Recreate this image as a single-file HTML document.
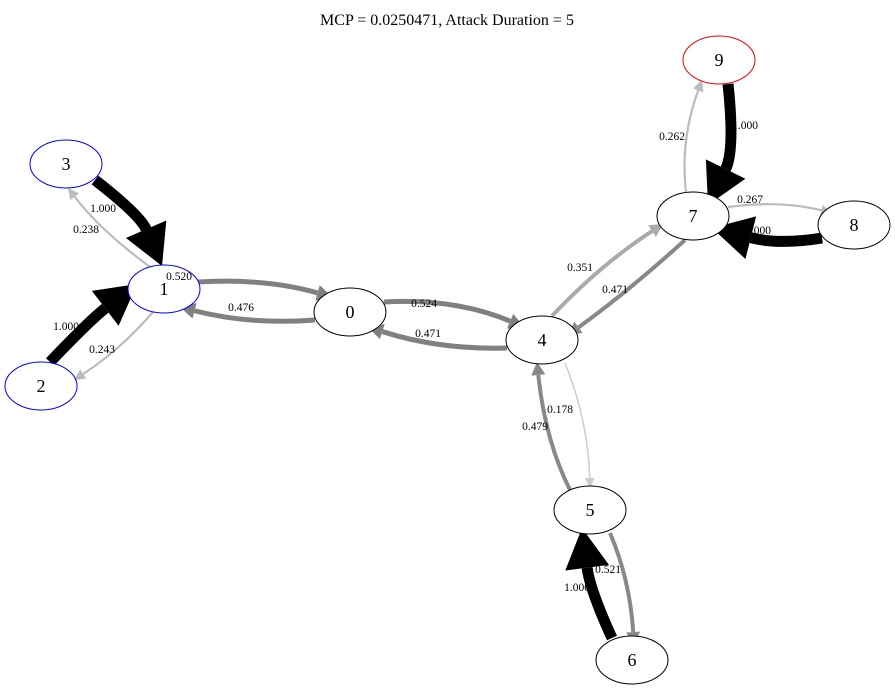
<!DOCTYPE html>
<html><head><meta charset="utf-8"><style>
html,body{margin:0;padding:0;background:#fff;width:895px;height:690px;overflow:hidden}
svg{display:block}
text{font-family:"Liberation Serif",serif}
</style></head><body>
<svg id="s" width="895" height="690" viewBox="0 0 895 690" xmlns="http://www.w3.org/2000/svg">
<text x="447" y="25" font-size="16" text-anchor="middle">MCP = 0.0250471, Attack Duration = 5</text>
<text x="103" y="212" font-size="11.5" text-anchor="middle">1.000</text>
<g id="edges"></g>
<g fill="#fff" stroke-width="1">
<ellipse cx="719" cy="60" rx="36" ry="24" stroke="#e00"/>
<ellipse cx="66" cy="164" rx="36" ry="24" stroke="#00f"/>
<ellipse cx="693" cy="216" rx="36" ry="24" stroke="#000"/>
<ellipse cx="854" cy="225" rx="36" ry="24" stroke="#000"/>
<ellipse cx="164" cy="289" rx="36" ry="24" stroke="#00f"/>
<ellipse cx="350" cy="312" rx="36" ry="24" stroke="#000"/>
<ellipse cx="542" cy="340" rx="36" ry="24" stroke="#000"/>
<ellipse cx="41" cy="386" rx="36" ry="24" stroke="#00f"/>
<ellipse cx="590" cy="510" rx="36" ry="24" stroke="#000"/>
<ellipse cx="632" cy="660" rx="36" ry="24" stroke="#000"/>
</g>
<g font-size="18" text-anchor="middle">
<text x="719" y="66">9</text><text x="66" y="170">3</text><text x="693" y="222">7</text>
<text x="854" y="231">8</text><text x="164" y="295">1</text><text x="350" y="318">0</text>
<text x="542" y="346">4</text><text x="41" y="392">2</text><text x="590" y="516">5</text>
<text x="632" y="666">6</text>
</g>
<g font-size="11.5" text-anchor="middle">
<text x="86" y="233">0.238</text>
<text x="66" y="330">1.000</text>
<text x="102" y="353">0.243</text>
<text x="179" y="280">0.520</text>
<text x="241" y="311">0.476</text>
<text x="424" y="307">0.524</text>
<text x="428" y="337">0.471</text>
<text x="580" y="271">0.351</text>
<text x="615" y="293">0.471</text>
<text x="672" y="140">0.262</text>
<text x="745" y="129">1.000</text>
<text x="750" y="203">0.267</text>
<text x="758" y="234">1.000</text>
<text x="560" y="413">0.178</text>
<text x="535" y="430">0.479</text>
<text x="608" y="573">0.521</text>
<text x="577" y="591">1.000</text>
</g>
</svg>
<script>
var B=[11,'#000',40,22],G=[5,'#808080',15,8],L=[2.2,'#bbb',11,5.5],A=[4,'#aaa',13,7],D=[4,'#888',13,7],V=[1.5,'#ccc',10,5];
var E=[
[95,180,140,215,162,266,B],[150,267,100,230,68,188,L],
[50,362,90,320,137,284,B],[153,312,120,350,74,380,L],
[198,282,265,278,332,297,G],[315,320,250,325,180,307,G],
[384,302,455,298,524,327,G],[507,348,440,350,368,327,G],
[552,316,600,265,663,224,A],[685,240,630,290,568,335,D],
[686,193,680,140,702,80,L],[728,84,735,150,708,205,B],
[728,207,780,200,832,213,L],[822,238,780,245,712,228,B],
[565,363,588,420,590,488,V],[570,490,545,440,537,362,D],
[610,533,630,580,634,645,D],[612,638,590,590,582,528,B]];
var g=document.getElementById('edges'),h='';
E.forEach(function(e){var s=e[6],dx=e[4]-e[2],dy=e[5]-e[3],l=Math.hypot(dx,dy);dx/=l;dy/=l;
var bx=e[4]-dx*s[2],by=e[5]-dy*s[2],px=-dy*s[3],py=dx*s[3];
h+='<path d="M'+e[0]+','+e[1]+' Q'+e[2]+','+e[3]+' '+bx+','+by+'" fill="none" stroke="'+s[1]+'" stroke-width="'+s[0]+'"/>';
h+='<polygon points="'+e[4]+','+e[5]+' '+(bx+px)+','+(by+py)+' '+(bx-px)+','+(by-py)+'" fill="'+s[1]+'"/>';});
g.innerHTML=h;
</script>
</body></html>
